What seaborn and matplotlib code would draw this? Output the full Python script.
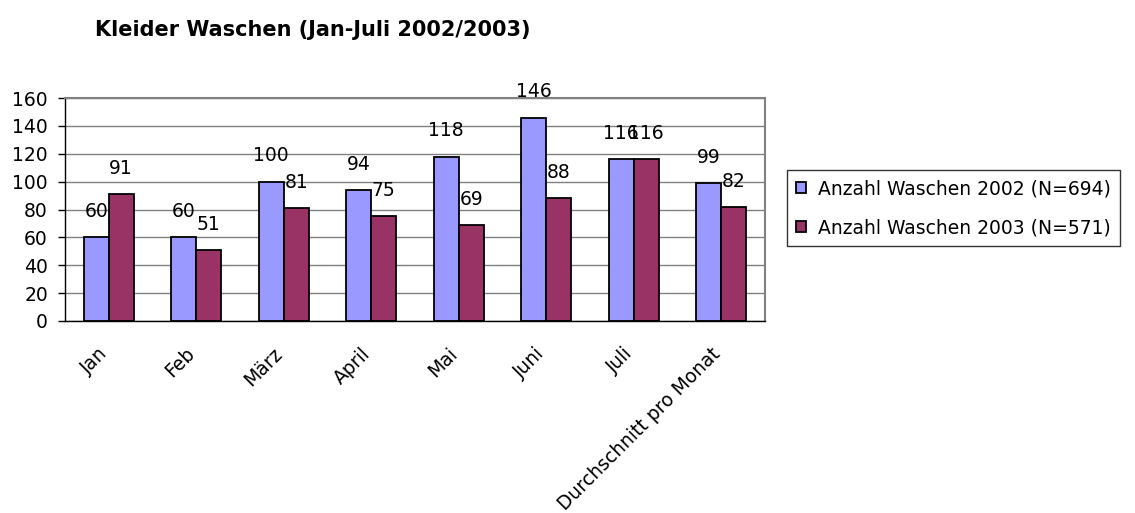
import matplotlib
matplotlib.use("Agg")
import matplotlib.pyplot as plt
import matplotlib.transforms as mtransforms
import seaborn as sns
import pandas as pd
import numpy as np

# Monthly laundry counts for both years plus the monthly average
categories = ["Jan", "Feb", "März", "April", "Mai", "Juni", "Juli", "Durchschnitt pro Monat"]
series_names = ["Anzahl Waschen 2002 (N=694)", "Anzahl Waschen 2003 (N=571)"]
values_2002 = [60, 60, 100, 94, 118, 146, 116, 99]
values_2003 = [91, 51, 81, 75, 69, 88, 116, 82]
y_ticks = [0, 20, 40, 60, 80, 100, 120, 140, 160]

df = pd.DataFrame({
    "Monat": categories * 2,
    "Serie": [series_names[0]] * len(categories) + [series_names[1]] * len(categories),
    "Anzahl": values_2002 + values_2003,
})

sns.set_style("white")
plt.rcParams["font.family"] = ["DejaVu Sans"]
plt.rcParams["text.color"] = "black"
plt.rcParams["xtick.color"] = "black"
plt.rcParams["ytick.color"] = "black"

FS = 13.5

fig = plt.figure(figsize=(11.35, 5.13), dpi=100)
ax = fig.add_axes([65 / 1135, 1 - 321 / 513, 700 / 1135, 223 / 513])

palette = {series_names[0]: "#9999FF", series_names[1]: "#993366"}
sns.barplot(data=df, x="Monat", y="Anzahl", hue="Serie", order=categories,
            hue_order=series_names, palette=palette, width=0.57, dodge=True,
            edgecolor="black", linewidth=1.3, saturation=1, ax=ax, legend=True)

# value labels above each bar
for container in ax.containers:
    for patch in container:
        h = patch.get_height()
        ax.annotate(f"{h:.0f}", (patch.get_x() + patch.get_width() / 2, h),
                    xytext=(0, 14.5), textcoords="offset points",
                    ha="center", va="baseline", fontsize=FS, color="black")

ax.set_ylim(0, 160)
ax.set_xlim(-0.5, len(categories) - 0.5)
ax.set_yticks(y_ticks)
ax.set_yticklabels([str(v) for v in y_ticks], fontsize=FS)
ax.yaxis.grid(True, color="#808080", linewidth=1.0)
ax.set_axisbelow(True)

# category names: rotated, hanging below the axis slightly left of each group
ax.set_xticks(range(len(categories)))
ax.set_xticklabels([])
ax.tick_params(axis="x", which="major", length=0)
label_offset = mtransforms.ScaledTranslation(-11 / 100, -23 / 100, fig.dpi_scale_trans)
for i, name in enumerate(categories):
    ax.text(i, 0, name, transform=ax.get_xaxis_transform() + label_offset,
            rotation=45, ha="right", va="top", rotation_mode="anchor",
            fontsize=13.5, color="black")

ax.set_xticks(np.arange(-0.5, len(categories)), minor=True)
ax.tick_params(axis="x", which="minor", length=5, width=1, color="black", direction="out")
ax.tick_params(axis="y", length=5, width=1, color="black", direction="out", pad=7.3, left=True)

ax.set_xlabel("")
ax.set_ylabel("")

for side in ["top", "right"]:
    ax.spines[side].set_color("#808080")
    ax.spines[side].set_linewidth(1.5)
for side in ["left", "bottom"]:
    ax.spines[side].set_color("black")
    ax.spines[side].set_linewidth(1.0)

handles, labels = ax.get_legend_handles_labels()
ax.legend_.remove()
leg = fig.legend(handles, labels, loc="upper left",
                 bbox_to_anchor=(787 / 1135, 1 - 170 / 513),
                 bbox_transform=fig.transFigure, frameon=True, fancybox=False,
                 edgecolor="black", fontsize=FS, handlelength=0.5, handleheight=0.5,
                 handletextpad=0.64, borderpad=0.5, labelspacing=1.05, borderaxespad=0)
leg.get_frame().set_linewidth(1.0)

fig.text(95 / 1135, 1 - 30 / 513, "Kleider Waschen (Jan-Juli 2002/2003)",
         fontsize=15, fontweight="bold", ha="left", va="center")

fig.savefig("out.png", dpi=100)
